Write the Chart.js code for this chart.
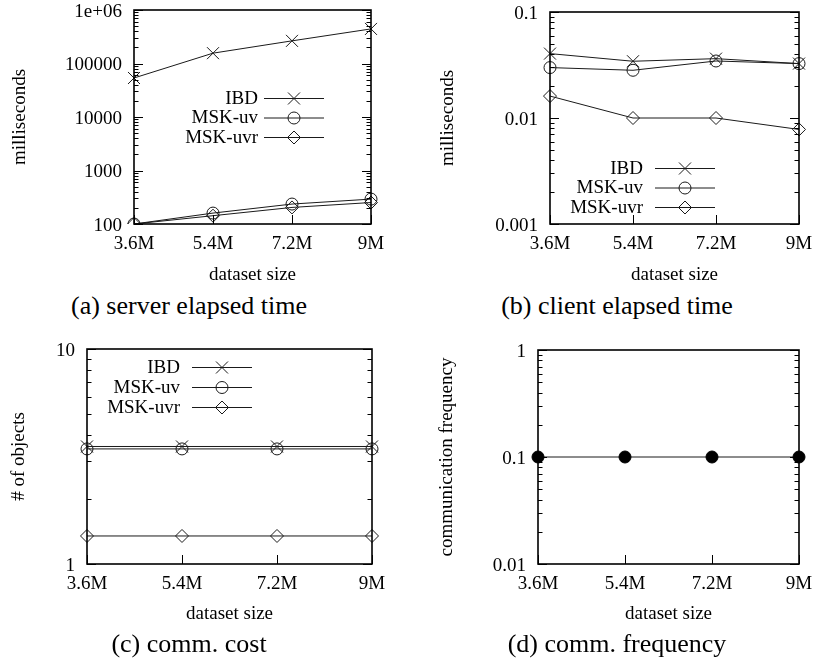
<!DOCTYPE html>
<html>
<head>
<meta charset="utf-8">
<script src="https://cdn.jsdelivr.net/npm/chart.js@4.4.0/dist/chart.umd.min.js"></script>
<style>
  body { margin: 0; background: #fff; }
  #page { position: relative; width: 815px; height: 667px; overflow: hidden; }
  canvas { position: absolute; }
  .cap { position: absolute; font-family: "Liberation Serif", "Times New Roman", serif; font-size: 26px; line-height: 26px; white-space: nowrap; transform: translateX(-50%); color: #000; }
</style>
</head>
<body>
<div id="page">
  <canvas id="chartA" width="408" height="290" style="left:0;top:0"></canvas>
  <canvas id="chartB" width="407" height="290" style="left:408px;top:0"></canvas>
  <canvas id="chartC" width="408" height="310" style="left:0;top:320px"></canvas>
  <canvas id="chartD" width="407" height="310" style="left:408px;top:320px"></canvas>
  <div class="cap" style="left:189px;top:293px">(a) server elapsed time</div>
  <div class="cap" style="left:617px;top:293px">(b) client elapsed time</div>
  <div class="cap" style="left:189px;top:631px">(c) comm. cost</div>
  <div class="cap" style="left:617px;top:631px">(d) comm. frequency</div>
</div>
<script>
// data
const sizes = ['3.6M', '5.4M', '7.2M', '9M'];
const seriesNames = ['IBD', 'MSK-uv', 'MSK-uvr'];

// (a) server elapsed time (ms)
const serverIBD = [53600, 156000, 265000, 443000];
const serverUV = [100, 160, 236, 292];
const serverUVR = [100, 143, 204, 252];

// (b) client elapsed time (ms)
const clientIBD = [0.0405, 0.0343, 0.0363, 0.0326];
const clientUV = [0.0299, 0.0282, 0.0345, 0.0326];
const clientUVR = [0.0161, 0.01, 0.01, 0.0078];

// (c) comm. cost (# of objects)
const costIBD = [3.52, 3.52, 3.52, 3.52];
const costUV = [3.43, 3.43, 3.43, 3.43];
const costUVR = [1.35, 1.35, 1.35, 1.35];

// (d) comm. frequency
const commFreq = [0.1, 0.1, 0.1, 0.1];

// y tick values / labels
const serverTicks = [100, 1000, 10000, 100000, 1000000];
const serverTickLabels = ['100', '1000', '10000', '100000', '1e+06'];
const clientTicks = [0.001, 0.01, 0.1];
const clientTickLabels = ['0.001', '0.01', '0.1'];
const costTicks = [1, 10];
const costTickLabels = ['1', '10'];
const freqTicks = [0.01, 0.1, 1];
const freqTickLabels = ['0.01', '0.1', '1'];

const FONT = '"Liberation Serif", "Times New Roman", serif';
const LINE = '#1a1a1a';

// marker styles for the three series
const markers = [
  { pointStyle: 'crossRot', pointRadius: 8.5 },
  { pointStyle: 'circle', pointRadius: 6 },
  { pointStyle: 'rectRot', pointRadius: 6.5 }
];

function series(values, i) {
  return {
    label: seriesNames[i],
    data: values,
    borderColor: LINE,
    borderWidth: 1,
    backgroundColor: 'rgba(0,0,0,0)',
    pointBorderColor: LINE,
    pointBackgroundColor: 'rgba(0,0,0,0)',
    pointBorderWidth: 1,
    pointStyle: markers[i].pointStyle,
    pointRadius: markers[i].pointRadius,
    tension: 0,
    fill: false
  };
}

// small marker drawer for the in-plot legend
function drawMarker(ctx, style, r, x, y) {
  ctx.beginPath();
  if (style === 'crossRot') {
    const d = r * Math.SQRT1_2;
    ctx.moveTo(x - d, y - d); ctx.lineTo(x + d, y + d);
    ctx.moveTo(x - d, y + d); ctx.lineTo(x + d, y - d);
  } else if (style === 'circle') {
    ctx.arc(x, y, r, 0, Math.PI * 2);
  } else if (style === 'rectRot') {
    ctx.moveTo(x, y - r); ctx.lineTo(x + r, y); ctx.lineTo(x, y + r); ctx.lineTo(x - r, y); ctx.closePath();
  }
  ctx.stroke();
}

// gnuplot-like frame with inward major/minor ticks, plus the key
const gnuFrame = {
  id: 'gnuFrame',
  afterDatasetsDraw(chart, args, opts) {
    const { ctx, chartArea: a, scales: { x, y } } = chart;
    ctx.save();
    ctx.strokeStyle = '#000';
    ctx.lineWidth = 1;
    // y ticks, both sides
    const lo = Math.floor(Math.log10(y.min) + 1e-9);
    const hi = Math.ceil(Math.log10(y.max) - 1e-9);
    ctx.beginPath();
    for (let e = lo; e <= hi; e++) {
      for (let k = 1; k <= 9; k++) {
        const v = k * Math.pow(10, e);
        if (v < y.min * 0.999 || v > y.max * 1.001) continue;
        const py = Math.round(y.getPixelForValue(v)) + 0.5;
        const len = k === 1 ? 9 : 4.5;
        ctx.moveTo(a.left, py); ctx.lineTo(a.left + len, py);
        ctx.moveTo(a.right, py); ctx.lineTo(a.right - len, py);
      }
    }
    // x ticks, bottom only
    sizes.forEach((s, i) => {
      const px = Math.round(x.getPixelForValue(i)) + 0.5;
      ctx.moveTo(px, a.bottom); ctx.lineTo(px, a.bottom - 9);
    });
    ctx.stroke();
    // frame
    ctx.lineWidth = 1.6;
    ctx.strokeRect(a.left, a.top, a.right - a.left, a.bottom - a.top);

    // key
    if (opts && opts.show) {
      ctx.font = '19px ' + FONT;
      ctx.fillStyle = '#000';
      ctx.textAlign = 'right';
      ctx.textBaseline = 'middle';
      chart.data.datasets.forEach((ds, i) => {
        const ty = opts.y + i * opts.rowH;
        ctx.fillText(ds.label, opts.x, ty + 1);
        ctx.strokeStyle = LINE;
        ctx.lineWidth = 1;
        ctx.beginPath();
        ctx.moveTo(opts.x + opts.gap, ty + 0.5);
        ctx.lineTo(opts.x + opts.gap + opts.len, ty + 0.5);
        ctx.stroke();
        drawMarker(ctx, ds.pointStyle, ds.pointRadius, opts.x + opts.gap + opts.len / 2, ty + 0.5);
      });
    }
    ctx.restore();
  }
};

function makeChart(id, cfg) {
  const c = document.getElementById(id);
  const W = c.width, H = c.height, p = cfg.plot;
  return new Chart(c, {
    type: 'line',
    data: { labels: sizes, datasets: cfg.datasets },
    plugins: [gnuFrame],
    options: {
      responsive: false,
      animation: false,
      events: [],
      layout: { padding: { left: 0, top: p.top, right: W - p.right, bottom: 0 } },
      plugins: {
        legend: { display: false },
        tooltip: { enabled: false },
        gnuFrame: cfg.key
      },
      scales: {
        x: {
          type: 'category',
          offset: false,
          grid: { display: false, drawTicks: false },
          border: { display: false },
          ticks: { color: '#000', font: { family: FONT, size: 19 }, padding: 9, maxRotation: 0, autoSkip: false },
          title: { display: true, text: 'dataset size', color: '#000', font: { family: FONT, size: 19 }, padding: { top: 0, bottom: cfg.xTitlePad } },
          afterFit(s) { s.height = H - p.bottom; s.paddingLeft = 0; s.paddingRight = 0; }
        },
        y: {
          type: 'logarithmic',
          min: cfg.ticks[0],
          max: cfg.ticks[cfg.ticks.length - 1],
          grid: { display: false, drawTicks: false },
          border: { display: false },
          afterBuildTicks(s) { s.ticks = cfg.ticks.map(v => ({ value: v })); },
          ticks: {
            color: '#000',
            font: { family: FONT, size: 19 },
            padding: 12,
            labelOffset: 2,
            autoSkip: false,
            callback: (v, i) => cfg.tickLabels[i]
          },
          title: { display: true, text: cfg.yTitle, color: '#000', font: { family: FONT, size: 19 }, padding: { top: cfg.yTitlePad, bottom: 0 } },
          afterFit(s) { s.width = p.left; s.paddingTop = 0; s.paddingBottom = 0; }
        }
      }
    }
  });
}

makeChart('chartA', {
  datasets: [series(serverIBD, 0), series(serverUV, 1), series(serverUVR, 2)],
  ticks: serverTicks, tickLabels: serverTickLabels,
  yTitle: 'milliseconds', yTitlePad: 8.5, xTitlePad: 3.6,
  plot: { left: 134, top: 10, right: 371, bottom: 224 },
  key: { show: true, x: 258, y: 98, rowH: 19.5, gap: 6, len: 60 }
});

makeChart('chartB', {
  datasets: [series(clientIBD, 0), series(clientUV, 1), series(clientUVR, 2)],
  ticks: clientTicks, tickLabels: clientTickLabels,
  yTitle: 'milliseconds', yTitlePad: 28.5, xTitlePad: 3.6,
  plot: { left: 142, top: 12, right: 391, bottom: 224 },
  key: { show: true, x: 235, y: 168, rowH: 19.5, gap: 12, len: 60 }
});

makeChart('chartC', {
  datasets: [series(costIBD, 0), series(costUV, 1), series(costUVR, 2)],
  ticks: costTicks, tickLabels: costTickLabels,
  yTitle: '# of objects', yTitlePad: 7.5, xTitlePad: 5,
  plot: { left: 87, top: 29, right: 372, bottom: 244 },
  key: { show: true, x: 180, y: 47, rowH: 20, gap: 12, len: 60 }
});

makeChart('chartD', {
  datasets: [{
    label: 'comm. frequency',
    data: commFreq,
    borderColor: LINE,
    borderWidth: 1,
    pointStyle: 'circle',
    pointRadius: 6,
    pointBorderColor: '#000',
    pointBackgroundColor: '#000',
    tension: 0,
    fill: false
  }],
  ticks: freqTicks, tickLabels: freqTickLabels,
  yTitle: 'communication frequency', yTitlePad: 28, xTitlePad: 5,
  plot: { left: 130, top: 30, right: 391, bottom: 244 },
  key: { show: false }
});
</script>
</body>
</html>
